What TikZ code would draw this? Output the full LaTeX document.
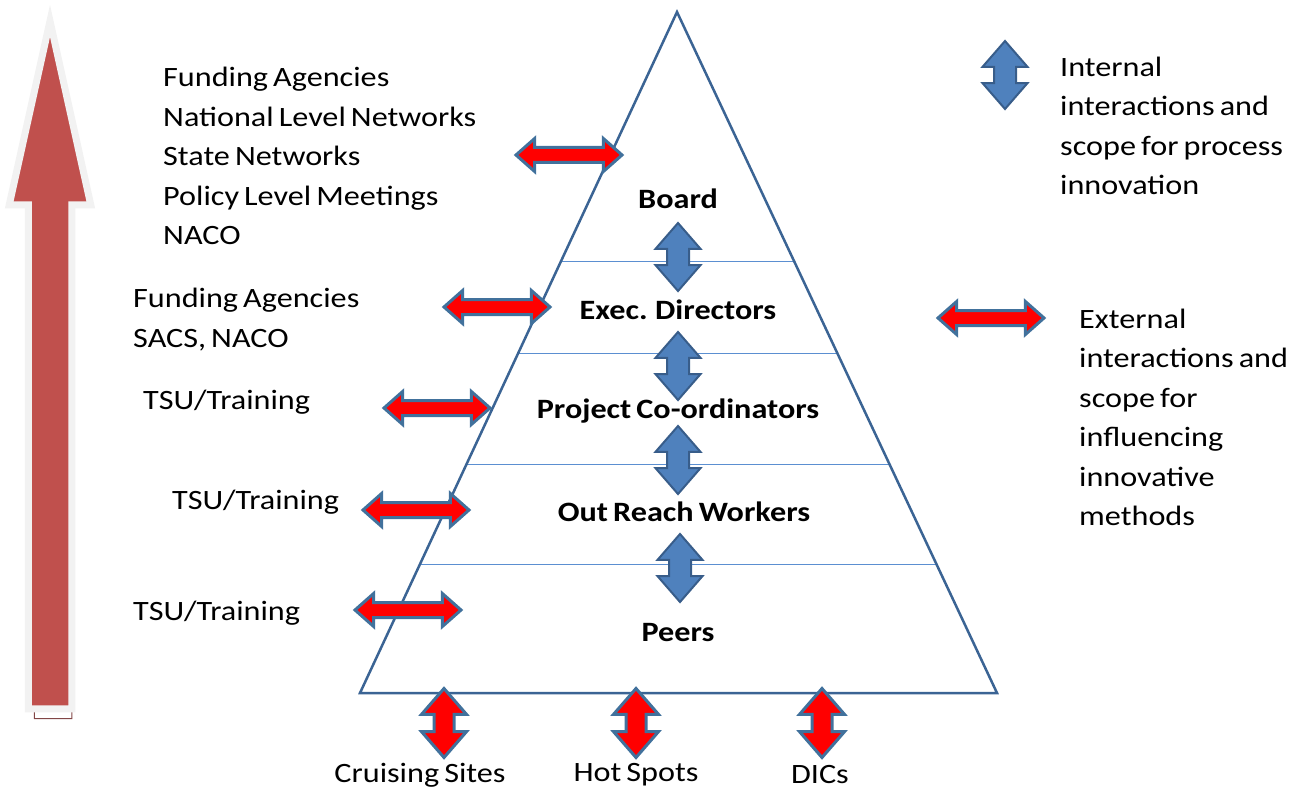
\documentclass[tikz,border=0pt]{standalone}
\usepackage{fontspec}
\setmainfont{Carlito}[FakeStretch=1.15,WordSpace=0.7]
\usetikzlibrary{shapes.arrows,calc}
\definecolor{extred}{RGB}{255,0,0}
\definecolor{extline}{RGB}{65,113,156}
\definecolor{intblue}{RGB}{79,129,189}
\definecolor{intline}{RGB}{56,93,138}
\definecolor{bigred}{RGB}{192,80,77}
\definecolor{bigrim}{RGB}{242,242,242}
\definecolor{bigshade}{RGB}{130,70,70}
\definecolor{pyrline}{RGB}{59,100,148}
\definecolor{tierline}{RGB}{91,143,209}
\begin{document}
\begin{tikzpicture}[x=1pt,y=-1pt,
  every node/.style={font=\fontsize{28}{39.5}\selectfont},
  tierlabel/.style={font=\fontsize{28}{39.5}\selectfont\bfseries},
  textblock/.style={anchor=west,align=left,inner sep=0pt},
  extarrow/.style={double arrow,draw=extline,fill=extred,line width=3pt,inner xsep=0pt,inner ysep=6pt,
    minimum height=106pt,double arrow head extend=9pt,double arrow tip angle=83},
  intarrow/.style={double arrow,rotate=90,draw=intline,fill=intblue,line width=2pt,inner xsep=0pt,inner ysep=10pt,
    minimum height=68pt,double arrow head extend=11.5pt,double arrow tip angle=82},
  sitearrow/.style={double arrow,rotate=90,draw=extline,fill=extred,line width=3pt,inner xsep=0pt,inner ysep=8.5pt,
    minimum height=69pt,double arrow head extend=12.5pt,double arrow tip angle=82},
  bigarrow/.style={single arrow,rotate=90,inner xsep=0pt,inner ysep=18.25pt,
    minimum height=688pt,single arrow head extend=19pt,single arrow tip angle=25}]
\useasboundingbox (0,0) rectangle (1305,794);

% big upward arrow
\node[bigarrow,draw=bigshade,line width=1pt] (riseshade) at (53,417) {};
\node[bigarrow,draw=bigrim,fill=bigred,line width=7pt] (rise) at (50,414) {};

% pyramid
\coordinate (apex) at (677,12);
\coordinate (bl) at (360,693);
\coordinate (br) at (997,693);
\foreach \t in {0.367,0.501,0.665,0.812}
  \draw[tierline,line width=1pt] ($(apex)!\t!(bl)$) -- ($(apex)!\t!(br)$);
\draw[pyrline,line width=2.5pt] (apex) -- (bl) -- (br) -- cycle;

% levels
\node[tierlabel] (board) at (678,199) {Board};
\node[tierlabel] (exec) at (678,310) {Exec. Directors};
\node[tierlabel] (coord) at (678,411) {Project Co-ordinators};
\node[tierlabel] (orw) at (684,512) {Out Reach Workers};
\node[tierlabel] (peers) at (678,633) {Peers};

% internal interactions
\node[intarrow] (int1) at (678,257) {};
\node[intarrow] (int2) at (678,366) {};
\node[intarrow] (int3) at (678,460) {};
\node[intarrow] (int4) at (680,568) {};

% external interactions
\node[extarrow] (ext1) at (569,155) {};
\node[extarrow] (ext2) at (497,307) {};
\node[extarrow] (ext3) at (437,408) {};
\node[extarrow] (ext4) at (416,510) {};
\node[extarrow] (ext5) at (408,610) {};

\node[textblock] (outer1) at (163,156) {Funding Agencies\\National Level Networks\\State Networks\\Policy Level Meetings\\NACO};
\node[textblock] (outer2) at (133,319.5) {Funding Agencies\\SACS, NACO};
\node[textblock] (tsu1) at (143,402) {TSU/Training};
\node[textblock] (tsu2) at (172,502) {TSU/Training};
\node[textblock] (tsu3) at (133,613) {TSU/Training};

% field sites
\node[sitearrow] (site1) at (444,723) {};
\node[sitearrow] (site2) at (636,723) {};
\node[sitearrow] (site3) at (822,723) {};
\node (cruise) at (420,775) {Cruising Sites};
\node (hot) at (636,775) {Hot Spots};
\node (dic) at (820,775) {DICs};

% legend
\node[intarrow] (keyint) at (1005,75) {};
\node[textblock] (keyinttext) at (1060,126) {Internal\\interactions and\\scope for process\\innovation};
\node[extarrow] (keyext) at (991,318) {};
\node[textblock] (keyexttext) at (1079,417.5) {External\\interactions and\\scope for\\influencing\\innovative\\methods};
\end{tikzpicture}
\end{document}
